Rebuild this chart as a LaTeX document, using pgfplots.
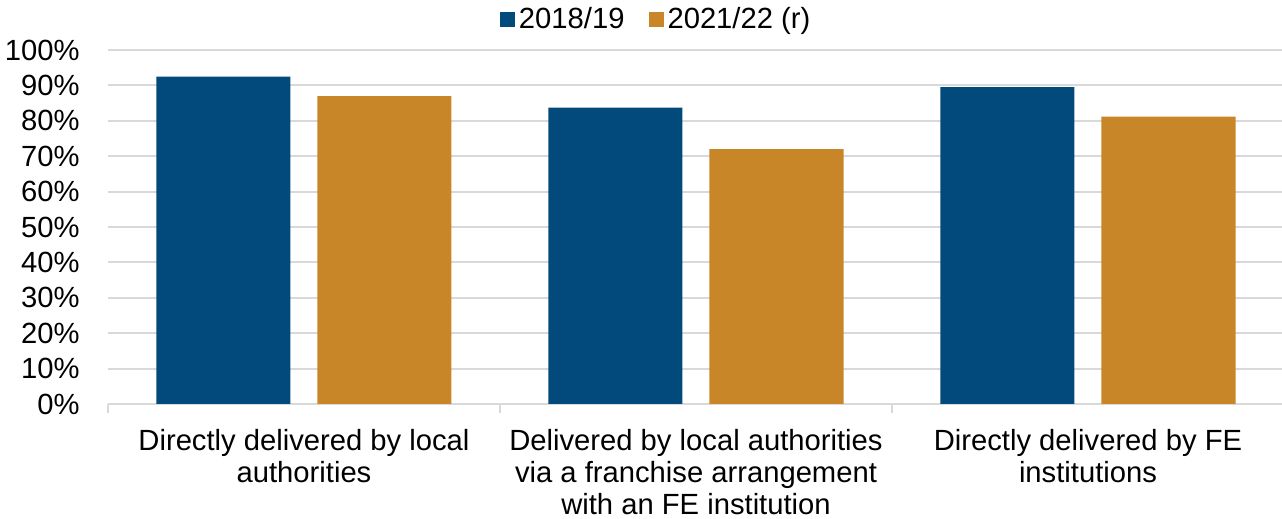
\documentclass[border=0pt]{standalone}
\usepackage{fontspec}
\setmainfont{Liberation Sans}
\usepackage{pgfplots}
\pgfplotsset{compat=1.18}
\definecolor{cblue}{RGB}{3,74,124}
\definecolor{corange}{RGB}{200,134,40}
\definecolor{cgrid}{RGB}{217,217,217}
\begin{document}
\begin{tikzpicture}
\useasboundingbox (-54pt,-57.5pt) rectangle (587pt,202pt);
\begin{axis}[
  scale only axis,
  width=588pt, height=177pt,
  xmin=-0.5, xmax=2.5,
  ymin=0, ymax=100,
  ybar=13.5pt, bar width=67pt,
  axis x line*=bottom,
  axis y line*=left,
  y axis line style={draw=none},
  x axis line style={draw=cgrid, line width=1pt},
  ymajorgrids,
  grid style={draw=cgrid, line width=1pt},
  ytick={0,10,...,100},
  yticklabel={\pgfmathprintnumber{\tick}\%},
  ytick style={draw=none},
  yticklabel style={inner sep=0pt, xshift=-14pt},
  xtick={0,1,2},
  xticklabels={{Directly delivered by local\\authorities},{Delivered by local authorities\\via a franchise arrangement\\with an FE institution},{Directly delivered by FE\\institutions}},
  xtick style={draw=none},
  xticklabel style={align=center, inner sep=0pt, anchor=north, yshift=-8pt},
  extra x ticks={-0.5,0.5,1.5,2.5},
  extra x tick labels={},
  extra x tick style={tick align=outside, major tick length=4.5pt, xtick style={draw=cgrid, line width=1pt}},
  every tick label/.append style={font=\fontsize{14.6}{16}\selectfont, text=black},
  /pgf/number format/assume math mode=true,
  legend columns=2,
  legend style={draw=none, at={(0.467,1.085)}, anchor=center, font=\fontsize{14.6}{16}\selectfont,
    /tikz/every even column/.append style={column sep=10pt}, inner sep=0pt},
  legend image code/.code={\fill[#1] (0pt,-3.75pt) rectangle (7.5pt,3.75pt);},
]
\addplot[fill=cblue, draw=none] coordinates {(0,92.5) (1,83.7) (2,89.5)};
\addplot[fill=corange, draw=none] coordinates {(0,87.0) (1,72.0) (2,81.2)};
\legend{2018/19,2021/22 (r)}
\end{axis}
\end{tikzpicture}
\end{document}
